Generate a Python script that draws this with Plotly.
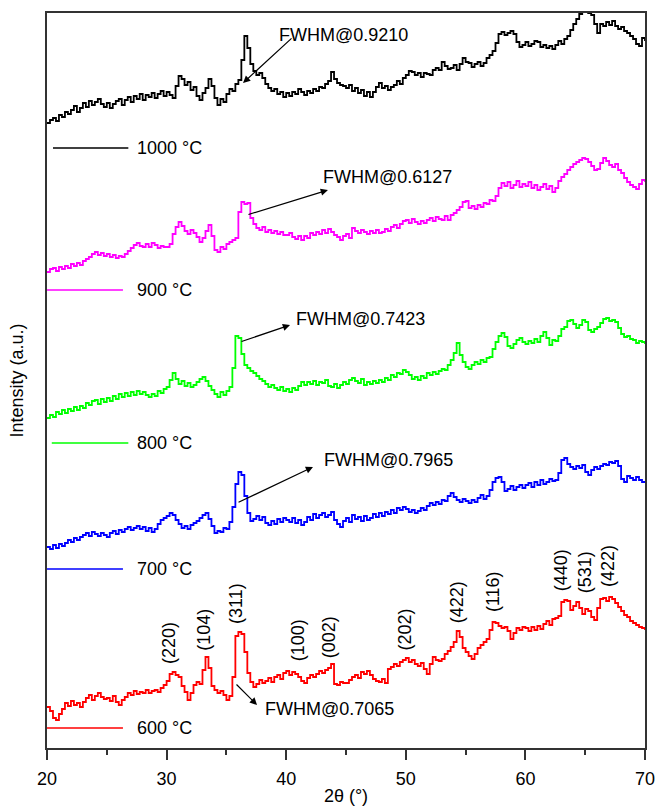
import plotly.graph_objects as go

# XRD scan grid (2theta, degrees), 0.25 deg step from 20 to 70
two_theta = [20 + 0.25 * i for i in range(201)]

# Intensities (a.u., already vertically stacked)
i_1000 = [
    625, 628, 630, 627, 633, 631, 636, 634, 638, 642,
    636, 640, 645, 641, 647, 643, 646, 649, 644, 641,
    645, 640, 644, 647, 649, 643, 648, 651, 646, 652,
    649, 654, 648, 653, 651, 655, 650, 654, 657, 652,
    656, 653, 650, 662, 672, 669, 663, 666, 658, 661,
    652, 648, 655, 660, 669, 662, 650, 643, 649, 646,
    654, 659, 657, 664, 668, 688, 712, 700, 684, 677,
    673, 675, 670, 664, 660, 657, 659, 654, 656, 651,
    655, 652, 656, 654, 659, 656, 653, 657, 655, 659,
    657, 661, 660, 664, 667, 676, 669, 665, 663, 662,
    660, 663, 657, 660, 655, 658, 652, 656, 651, 656,
    661, 665, 660, 662, 658, 661, 663, 667, 664, 670,
    673, 677, 676, 673, 675, 671, 675, 674, 673, 678,
    680, 678, 686, 682, 679, 680, 683, 678, 684, 690,
    686, 685, 681, 684, 686, 682, 685, 690, 693, 697,
    705, 714, 716, 713, 715, 717, 714, 706, 701, 703,
    706, 702, 704, 707, 706, 701, 703, 700, 702, 699,
    703, 707, 704, 709, 712, 718, 724, 729, 734, 738,
    737, 735, 733, 724, 715, 724, 722, 726, 723, 727,
    722, 719, 721, 717, 715, 712, 709, 704, 702, 710,
    707,
]

i_900 = [
    476, 479, 480, 477, 481, 479, 482, 480, 484, 482,
    485, 483, 487, 489, 491, 494, 496, 493, 495, 492,
    494, 491, 493, 490, 492, 491, 494, 497, 500, 503,
    505, 502, 501, 504, 501, 505, 503, 500, 502, 501,
    501, 504, 514, 521, 526, 522, 517, 514, 518, 515,
    511, 506, 510, 517, 523, 512, 498, 496, 501, 499,
    504, 506, 508, 510, 536, 546, 544, 545, 530, 524,
    520, 518, 521, 516, 518, 515, 517, 514, 516, 513,
    513, 515, 511, 509, 512, 508, 512, 510, 515, 513,
    516, 514, 518, 515, 519, 516, 513, 511, 508, 512,
    514, 510, 520, 517, 515, 518, 516, 514, 517, 515,
    518, 515, 516, 519, 517, 521, 523, 520, 524, 527,
    528, 525, 529, 526, 524, 527, 525, 528, 530, 527,
    531, 529, 528, 532, 528, 533, 535, 538, 541, 546,
    547, 540, 542, 539, 543, 541, 545, 544, 548, 547,
    552, 560, 565, 562, 566, 560, 563, 567, 561, 564,
    562, 566, 560, 563, 558, 561, 564, 559, 562, 556,
    560, 567, 571, 574, 578, 581, 584, 586, 588, 590,
    589, 586, 582, 578, 579, 585, 590, 587, 583, 581,
    584, 578, 575, 570, 566, 563, 561, 559, 564, 568,
    566,
]

i_800 = [
    330, 333, 331, 336, 334, 338, 335, 339, 337, 341,
    338, 342, 340, 345, 343, 347, 348, 344, 349, 346,
    350, 347, 352, 349, 354, 351, 355, 352, 356, 353,
    357, 354, 356, 353, 351, 354, 352, 357, 355, 359,
    361, 368, 375, 369, 364, 367, 362, 365, 361, 363,
    366, 369, 371, 367, 362, 358, 354, 351, 356, 353,
    357, 361, 380, 412, 410, 394, 383, 380, 377, 375,
    372, 369, 367, 364, 361, 363, 360, 358, 361, 357,
    359, 356, 360, 358, 362, 366, 363, 366, 364, 367,
    363, 366, 365, 368, 362, 361, 364, 360, 363, 366,
    364, 368, 370, 367, 365, 369, 363, 366, 364, 367,
    365, 368, 366, 370, 368, 373, 371, 375, 374, 378,
    376, 373, 369, 371, 368, 372, 370, 375, 373, 376,
    374, 377, 379, 378, 383, 388, 395, 405, 393, 386,
    381, 379, 383, 386, 384, 388, 386, 390, 391, 399,
    406, 412, 415, 411, 402, 400, 404, 408, 410, 406,
    404, 407, 405, 409, 406, 412, 416, 410, 403, 408,
    407, 412, 419, 421, 427, 428, 424, 420, 423, 428,
    426, 418, 416, 419, 421, 425, 429, 430, 427, 428,
    426, 420, 414, 411, 412, 409, 408, 405, 407, 406,
    404,
]

i_700 = [
    201, 199, 203, 200, 204, 202, 205, 208, 206, 210,
    208, 211, 213, 215, 212, 216, 214, 212, 215, 213,
    211, 215, 217, 214, 218, 216, 219, 221, 218, 220,
    222, 219, 221, 217, 220, 216, 219, 224, 228, 230,
    232, 235, 233, 228, 224, 220, 222, 219, 223, 225,
    227, 230, 233, 235, 229, 222, 215, 217, 216, 220,
    219, 226, 241, 264, 276, 273, 252, 235, 227, 229,
    232, 228, 231, 225, 223, 227, 224, 229, 226, 230,
    228, 226, 230, 225, 228, 223, 226, 231, 228, 234,
    230, 233, 235, 231, 233, 236, 228, 224, 221, 227,
    230, 226, 233, 229, 231, 227, 232, 228, 230, 234,
    231, 235, 232, 236, 234, 238, 235, 240, 238, 241,
    239, 236, 238, 235, 237, 240, 238, 242, 245, 243,
    246, 244, 248, 247, 252, 255, 251, 248, 246, 249,
    247, 245, 248, 246, 250, 253, 249, 252, 258, 266,
    270, 271, 266, 257, 259, 262, 258, 261, 263, 260,
    263, 265, 261, 266, 263, 268, 264, 266, 269, 267,
    268, 275, 288, 290, 284, 281, 279, 282, 280, 283,
    276, 273, 278, 281, 279, 282, 284, 283, 286, 285,
    287, 282, 269, 266, 272, 270, 268, 271, 268, 266,
    265,
]

i_600 = [
    41, 37, 30, 28, 34, 39, 45, 42, 47, 43,
    45, 41, 46, 50, 53, 48, 52, 55, 51, 49,
    50, 47, 52, 46, 43, 48, 51, 55, 53, 57,
    54, 56, 55, 58, 55, 57, 58, 56, 60, 63,
    67, 74, 76, 73, 71, 62, 56, 48, 55, 63,
    66, 64, 78, 91, 80, 62, 58, 55, 57, 53,
    48, 52, 71, 112, 116, 114, 96, 75, 66, 61,
    64, 68, 65, 67, 70, 66, 71, 73, 69, 75,
    77, 73, 76, 74, 71, 67, 65, 70, 73, 71,
    74, 77, 75, 78, 80, 84, 64, 63, 66, 65,
    65, 68, 71, 73, 70, 76, 74, 77, 73, 69,
    67, 66, 69, 65, 79, 81, 84, 82, 86, 88,
    90, 86, 88, 84, 82, 85, 79, 74, 84, 91,
    88, 87, 89, 94, 97, 101, 106, 117, 111, 100,
    96, 92, 89, 94, 100, 103, 106, 109, 118, 126,
    125, 122, 120, 121, 117, 109, 115, 120, 118, 121,
    120, 117, 121, 118, 122, 119, 124, 127, 123, 129,
    130, 132, 146, 148, 147, 138, 142, 146, 140, 134,
    139, 137, 131, 128, 140, 149, 150, 147, 151, 149,
    145, 141, 137, 133, 131, 127, 125, 123, 121, 120,
    118,
]

series_names = ["1000 °C", "900 °C", "800 °C", "700 °C", "600 °C"]
series_values = [i_1000, i_900, i_800, i_700, i_600]
series_colors = ["#000000", "#ff00ff", "#00ff00", "#0000ff", "#ff0000"]

# Miller indices of the 600 °C pattern
hkl_labels = ["(220)", "(104)", "(311)", "(100)", "(002)", "(202)",
              "(422)", "(116)", "(440)", "(531)", "(422)"]
hkl_pos = [30.2, 33.1, 35.8, 41.0, 43.6, 49.9, 54.3, 57.3, 63.0, 65.0, 66.9]
hkl_y = [105, 118, 145, 108, 111, 118, 146, 156, 178, 176, 182]

fwhm_labels = ["FWHM@0.9210", "FWHM@0.6127", "FWHM@0.7423",
               "FWHM@0.7965", "FWHM@0.7065"]

FONT = "Liberation Sans, Arial, Helvetica, sans-serif"

fig = go.Figure()
for name, vals, col in zip(series_names, series_values, series_colors):
    n = len(vals)
    fig.add_trace(go.Scatter(
        x=two_theta[:n], y=vals, mode="lines", name=name,
        line=dict(color=col, width=1.8, shape="hv"),
        showlegend=False,
    ))

# in-plot legend keys (segment + label) next to each pattern
legend_pos = [(20.5, 26.8, 600), (20.0, 26.35, 458), (20.4, 26.8, 305),
              (20.0, 26.35, 179), (20.0, 26.35, 20)]
for (x0, x1, yy), name, col in zip(legend_pos, series_names, series_colors):
    fig.add_shape(type="line", xref="x", yref="y", x0=x0, x1=x1, y0=yy, y1=yy,
                  line=dict(color=col, width=1.5))
    fig.add_annotation(x=27.35, y=yy, xref="x", yref="y", text=name,
                       showarrow=False, xanchor="left", yanchor="middle",
                       font=dict(size=18, color="black", family=FONT))

for lab, xp, yp in zip(hkl_labels, hkl_pos, hkl_y):
    fig.add_annotation(x=xp, y=yp, xref="x", yref="y", text=lab,
                       showarrow=False, textangle=-90,
                       xanchor="center", yanchor="middle",
                       font=dict(size=18, color="black", family=FONT))

# FWHM text labels and arrows
fwhm_text_pos = [(39.23, 713), (42.91, 571), (40.65, 429), (42.99, 288), (38.06, 39)]
fwhm_arrows = [  # (head x, head y, tail x, tail y)
    (36.39, 665, 40.57, 711),
    (43.49, 558, 36.72, 533),
    (40.32, 423, 36.14, 406),
    (42.24, 281, 35.89, 245),
    (37.56, 43, 35.72, 65),
]
for lab, (tx, ty) in zip(fwhm_labels, fwhm_text_pos):
    fig.add_annotation(x=tx, y=ty, xref="x", yref="y", text=lab,
                       showarrow=False, xanchor="left", yanchor="middle",
                       font=dict(size=18, color="black", family=FONT))
for hx, hy, tx, ty in fwhm_arrows:
    fig.add_annotation(x=hx, y=hy, ax=tx, ay=ty, xref="x", yref="y",
                       axref="x", ayref="y", text="", showarrow=True,
                       arrowhead=2, arrowsize=1.2, arrowwidth=1.2,
                       arrowcolor="black")

fig.update_layout(
    width=657, height=806,
    margin=dict(l=47, r=12, t=13, b=58),
    paper_bgcolor="white", plot_bgcolor="white",
    font=dict(family=FONT, size=18, color="black"),
)
fig.update_xaxes(
    range=[20, 70], tickvals=[20, 30, 40, 50, 60, 70],
    ticks="outside", ticklen=10, tickwidth=1.5, tickcolor="#333",
    minor=dict(tickvals=[25, 35, 45, 55, 65], ticks="outside", ticklen=5,
               tickwidth=1.5, tickcolor="#333"),
    showline=True, linecolor="#333", linewidth=1.5, mirror=True,
    showgrid=False, zeroline=False, automargin=False,
    ticklabelstandoff=4,
    tickfont=dict(size=18, family=FONT),
    title=dict(text="2θ (°)", font=dict(size=18, family=FONT), standoff=4),
)
fig.update_yaxes(
    range=[0, 735], showticklabels=False, ticks="",
    showline=True, linecolor="#333", linewidth=1.5, mirror=True,
    showgrid=False, zeroline=False, automargin=False,
    title=dict(text="Intensity (a.u.)", font=dict(size=18, family=FONT), standoff=17),
)

fig.write_html("out.html")
